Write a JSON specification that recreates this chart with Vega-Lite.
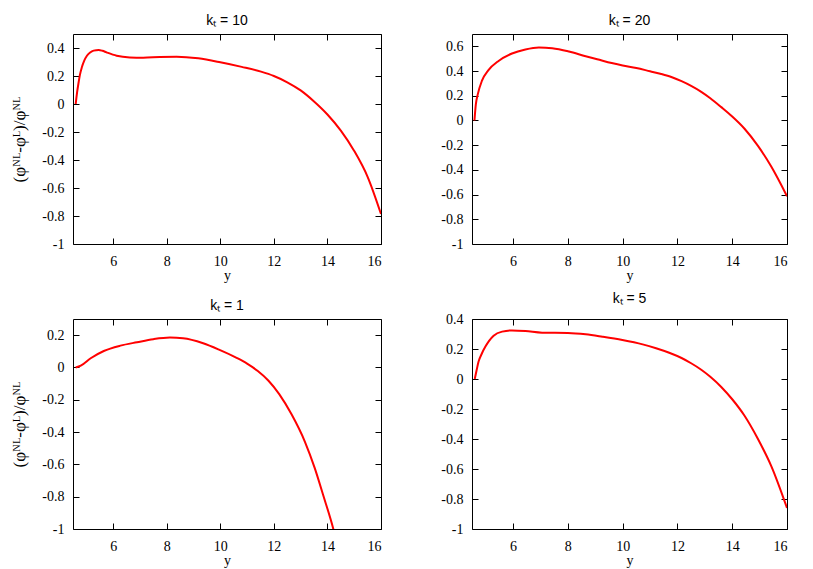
{
  "$schema": "https://vega.github.io/schema/vega-lite/v6.json",
  "padding": {"left": 10, "top": 13, "right": 5, "bottom": 2},
  "spacing": 8,
  "datasets": {
    "kt10": [
      {"yv": 4.6, "r": 0}, {"yv": 4.65, "r": 0.08}, {"yv": 4.7, "r": 0.143}, {"yv": 4.76, "r": 0.21}, {"yv": 4.83, "r": 0.262},
      {"yv": 4.92, "r": 0.31}, {"yv": 5.02, "r": 0.345}, {"yv": 5.14, "r": 0.368}, {"yv": 5.27, "r": 0.381}, {"yv": 5.46, "r": 0.386},
      {"yv": 5.6, "r": 0.38}, {"yv": 5.75, "r": 0.369}, {"yv": 6.13, "r": 0.345}, {"yv": 6.62, "r": 0.333}, {"yv": 7.12, "r": 0.331},
      {"yv": 7.74, "r": 0.336}, {"yv": 8.37, "r": 0.338}, {"yv": 9.18, "r": 0.326}, {"yv": 10.0, "r": 0.298}, {"yv": 10.8, "r": 0.265},
      {"yv": 11.52, "r": 0.231}, {"yv": 12.0, "r": 0.2}, {"yv": 12.5, "r": 0.155}, {"yv": 13.0, "r": 0.097}, {"yv": 13.5, "r": 0.018},
      {"yv": 14.0, "r": -0.075}, {"yv": 14.5, "r": -0.19}, {"yv": 15.0, "r": -0.335}, {"yv": 15.5, "r": -0.52}, {"yv": 16.0, "r": -0.786}
    ],
    "kt20": [
      {"yv": 4.59, "r": 0}, {"yv": 4.64, "r": 0.13}, {"yv": 4.71, "r": 0.211}, {"yv": 4.86, "r": 0.32}, {"yv": 5.1, "r": 0.407},
      {"yv": 5.47, "r": 0.482}, {"yv": 5.96, "r": 0.542}, {"yv": 6.45, "r": 0.575}, {"yv": 6.94, "r": 0.591}, {"yv": 7.43, "r": 0.585},
      {"yv": 8.04, "r": 0.558}, {"yv": 8.65, "r": 0.52}, {"yv": 9.07, "r": 0.496}, {"yv": 9.6, "r": 0.465}, {"yv": 10.0, "r": 0.445},
      {"yv": 10.5, "r": 0.425}, {"yv": 11.0, "r": 0.398}, {"yv": 11.41, "r": 0.376}, {"yv": 11.8, "r": 0.35}, {"yv": 12.15, "r": 0.318},
      {"yv": 12.5, "r": 0.28}, {"yv": 12.87, "r": 0.232}, {"yv": 13.2, "r": 0.18}, {"yv": 13.6, "r": 0.108}, {"yv": 14.0, "r": 0.032},
      {"yv": 14.45, "r": -0.067}, {"yv": 14.94, "r": -0.206}, {"yv": 15.43, "r": -0.375}, {"yv": 16.0, "r": -0.613}
    ],
    "kt1": [
      {"yv": 4.6, "r": 0}, {"yv": 4.79, "r": 0.011}, {"yv": 5.16, "r": 0.057}, {"yv": 5.65, "r": 0.102}, {"yv": 6.27, "r": 0.135},
      {"yv": 6.89, "r": 0.156}, {"yv": 7.5, "r": 0.175}, {"yv": 8.12, "r": 0.185}, {"yv": 8.61, "r": 0.181}, {"yv": 9.36, "r": 0.15},
      {"yv": 9.97, "r": 0.109}, {"yv": 10.59, "r": 0.061}, {"yv": 11.0, "r": 0.024}, {"yv": 11.4, "r": -0.022}, {"yv": 11.8, "r": -0.082},
      {"yv": 12.2, "r": -0.165}, {"yv": 12.66, "r": -0.29}, {"yv": 13.16, "r": -0.46}, {"yv": 13.53, "r": -0.625}, {"yv": 13.84, "r": -0.79},
      {"yv": 14.21, "r": -0.994}, {"yv": 14.25, "r": -1.02}
    ],
    "kt5": [
      {"yv": 4.6, "r": 0}, {"yv": 4.67, "r": 0.06}, {"yv": 4.74, "r": 0.116}, {"yv": 4.86, "r": 0.17}, {"yv": 4.99, "r": 0.216},
      {"yv": 5.13, "r": 0.256}, {"yv": 5.29, "r": 0.289}, {"yv": 5.6, "r": 0.316}, {"yv": 5.96, "r": 0.324}, {"yv": 6.45, "r": 0.32},
      {"yv": 7.06, "r": 0.309}, {"yv": 8.0, "r": 0.307}, {"yv": 8.65, "r": 0.298}, {"yv": 9.26, "r": 0.282}, {"yv": 9.99, "r": 0.26},
      {"yv": 10.73, "r": 0.231}, {"yv": 11.22, "r": 0.205}, {"yv": 11.7, "r": 0.175}, {"yv": 12.15, "r": 0.14}, {"yv": 12.5, "r": 0.105},
      {"yv": 12.87, "r": 0.062}, {"yv": 13.2, "r": 0.015}, {"yv": 13.6, "r": -0.053}, {"yv": 14.0, "r": -0.135}, {"yv": 14.45, "r": -0.245},
      {"yv": 14.94, "r": -0.4}, {"yv": 15.43, "r": -0.582}, {"yv": 16.0, "r": -0.86}
    ]
  },
  "config": {
    "font": "Liberation Serif",
    "view": {"stroke": "black", "strokeWidth": 1},
    "concat": {"spacing": 58},
    "axis": {
      "grid": false, "domain": false, "tickColor": "black", "tickSize": -6, "tickWidth": 1,
      "labelFont": "Liberation Serif", "labelFontSize": 14, "labelColor": "black",
      "titleFont": "Liberation Serif", "titleFontSize": 14, "titleFontWeight": "normal", "titleColor": "black"
    },
    "axisX": {"labelPadding": 16, "titlePadding": 0},
    "axisY": {"labelPadding": 15, "titlePadding": 13, "titleFontSize": 17},
    "title": {"font": "Liberation Sans", "fontSize": 14, "fontWeight": "normal", "color": "black", "offset": 6}
  },
  "vconcat": [
    {
      "hconcat": [
        {
          "title": "kₜ = 10", "width": 308, "height": 210, "data": {"name": "kt10"},
          "layer": [
            {"mark": {"type": "line", "color": "#ff0000", "strokeWidth": 2, "interpolate": "monotone", "clip": true},
             "encoding": {
               "x": {"field": "yv", "type": "quantitative", "scale": {"domain": [4.5, 16], "nice": false, "zero": false}, "axis": {"values": [6, 8, 10, 12, 14, 16], "title": "y"}},
               "y": {"field": "r", "type": "quantitative", "scale": {"domain": [-1, 0.5], "nice": false, "zero": false}, "axis": {"values": [-1, -0.8, -0.6, -0.4, -0.2, 0, 0.2, 0.4], "title": "(φᴺᴸ-φᴸ)/φᴺᴸ", "labelExpr": "replace(format(datum.value, '.1~f'), '−', '-')"}}
             }},
            {"mark": {"type": "line", "opacity": 0},
             "encoding": {
               "x": {"field": "yv", "type": "quantitative", "axis": {"orient": "top", "labels": false, "title": null, "values": [6, 8, 10, 12, 14, 16]}},
               "y": {"field": "r", "type": "quantitative", "axis": {"orient": "right", "labels": false, "title": null, "values": [-1, -0.8, -0.6, -0.4, -0.2, 0, 0.2, 0.4]}}
             }}
          ],
          "resolve": {"axis": {"x": "independent", "y": "independent"}}
        },
        {
          "title": "kₜ = 20", "width": 315, "height": 210, "data": {"name": "kt20"},
          "layer": [
            {"mark": {"type": "line", "color": "#ff0000", "strokeWidth": 2, "interpolate": "monotone", "clip": true},
             "encoding": {
               "x": {"field": "yv", "type": "quantitative", "scale": {"domain": [4.5, 16], "nice": false, "zero": false}, "axis": {"values": [6, 8, 10, 12, 14, 16], "title": "y"}},
               "y": {"field": "r", "type": "quantitative", "scale": {"domain": [-1, 0.7], "nice": false, "zero": false}, "axis": {"values": [-1, -0.8, -0.6, -0.4, -0.2, 0, 0.2, 0.4, 0.6], "title": null, "labelExpr": "replace(format(datum.value, '.1~f'), '−', '-')"}}
             }},
            {"mark": {"type": "line", "opacity": 0},
             "encoding": {
               "x": {"field": "yv", "type": "quantitative", "axis": {"orient": "top", "labels": false, "title": null, "values": [6, 8, 10, 12, 14, 16]}},
               "y": {"field": "r", "type": "quantitative", "axis": {"orient": "right", "labels": false, "title": null, "values": [-1, -0.8, -0.6, -0.4, -0.2, 0, 0.2, 0.4, 0.6]}}
             }}
          ],
          "resolve": {"axis": {"x": "independent", "y": "independent"}}
        }
      ]
    },
    {
      "hconcat": [
        {
          "title": "kₜ = 1", "width": 308, "height": 210, "data": {"name": "kt1"},
          "layer": [
            {"mark": {"type": "line", "color": "#ff0000", "strokeWidth": 2, "interpolate": "monotone", "clip": true},
             "encoding": {
               "x": {"field": "yv", "type": "quantitative", "scale": {"domain": [4.5, 16], "nice": false, "zero": false}, "axis": {"values": [6, 8, 10, 12, 14, 16], "title": "y"}},
               "y": {"field": "r", "type": "quantitative", "scale": {"domain": [-1, 0.3], "nice": false, "zero": false}, "axis": {"values": [-1, -0.8, -0.6, -0.4, -0.2, 0, 0.2], "title": "(φᴺᴸ-φᴸ)/φᴺᴸ", "labelExpr": "replace(format(datum.value, '.1~f'), '−', '-')"}}
             }},
            {"mark": {"type": "line", "opacity": 0},
             "encoding": {
               "x": {"field": "yv", "type": "quantitative", "axis": {"orient": "top", "labels": false, "title": null, "values": [6, 8, 10, 12, 14, 16]}},
               "y": {"field": "r", "type": "quantitative", "axis": {"orient": "right", "labels": false, "title": null, "values": [-1, -0.8, -0.6, -0.4, -0.2, 0, 0.2]}}
             }}
          ],
          "resolve": {"axis": {"x": "independent", "y": "independent"}}
        },
        {
          "title": "kₜ = 5", "width": 315, "height": 210, "data": {"name": "kt5"},
          "layer": [
            {"mark": {"type": "line", "color": "#ff0000", "strokeWidth": 2, "interpolate": "monotone", "clip": true},
             "encoding": {
               "x": {"field": "yv", "type": "quantitative", "scale": {"domain": [4.5, 16], "nice": false, "zero": false}, "axis": {"values": [6, 8, 10, 12, 14, 16], "title": "y"}},
               "y": {"field": "r", "type": "quantitative", "scale": {"domain": [-1, 0.4], "nice": false, "zero": false}, "axis": {"values": [-1, -0.8, -0.6, -0.4, -0.2, 0, 0.2, 0.4], "title": null, "labelExpr": "replace(format(datum.value, '.1~f'), '−', '-')"}}
             }},
            {"mark": {"type": "line", "opacity": 0},
             "encoding": {
               "x": {"field": "yv", "type": "quantitative", "axis": {"orient": "top", "labels": false, "title": null, "values": [6, 8, 10, 12, 14, 16]}},
               "y": {"field": "r", "type": "quantitative", "axis": {"orient": "right", "labels": false, "title": null, "values": [-1, -0.8, -0.6, -0.4, -0.2, 0, 0.2, 0.4]}}
             }}
          ],
          "resolve": {"axis": {"x": "independent", "y": "independent"}}
        }
      ]
    }
  ]
}
